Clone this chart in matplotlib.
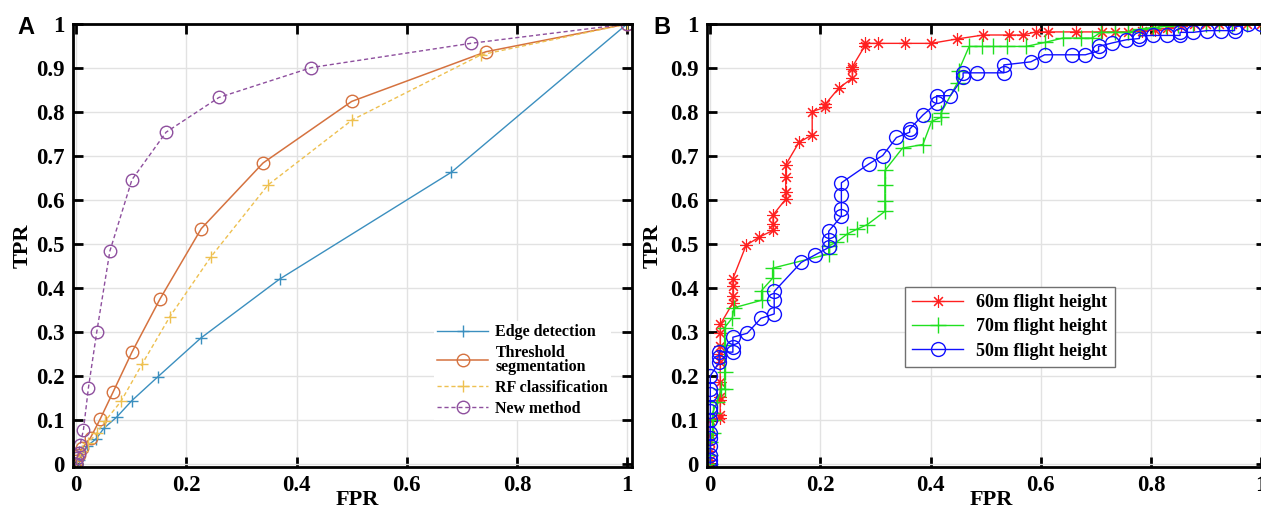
import matplotlib.pyplot as plt

# ---- panel A data (FPR, TPR) ----
edge_fpr = [0, 0.005, 0.019, 0.036, 0.05, 0.073, 0.101, 0.148, 0.226, 0.369, 0.681, 1.0]
edge_tpr = [0, 0.01, 0.04, 0.057, 0.081, 0.106, 0.144, 0.198, 0.286, 0.42, 0.663, 1.0]

thr_fpr = [0, 0.004, 0.011, 0.026, 0.043, 0.067, 0.101, 0.152, 0.227, 0.339, 0.5, 0.744, 1.0]
thr_tpr = [0.006, 0.021, 0.036, 0.06, 0.101, 0.164, 0.254, 0.375, 0.535, 0.684, 0.824, 0.937, 1.0]

rf_fpr = [0, 0.011, 0.022, 0.037, 0.052, 0.081, 0.119, 0.17, 0.244, 0.348, 0.501, 0.735, 1.0]
rf_tpr = [0, 0.029, 0.048, 0.07, 0.097, 0.142, 0.226, 0.335, 0.47, 0.634, 0.782, 0.93, 1.0]

new_fpr = [0, 0.001, 0.004, 0.007, 0.013, 0.022, 0.037, 0.061, 0.101, 0.163, 0.259, 0.427, 0.716, 1.0]
new_tpr = [0, 0.014, 0.025, 0.044, 0.078, 0.173, 0.299, 0.484, 0.646, 0.754, 0.833, 0.901, 0.956, 1.0]

# ---- panel B data ----
h60_fpr = [0, 0, 0, 0, 0, 0,
           0.018, 0.018, 0.018, 0.018, 0.018, 0.018, 0.018, 0.018, 0.018, 0.018,
           0.041, 0.041, 0.041, 0.041, 0.065, 0.088, 0.114, 0.114, 0.114,
           0.137, 0.137, 0.137, 0.137, 0.161, 0.185, 0.185, 0.209, 0.209, 0.233,
           0.258, 0.258, 0.258, 0.281, 0.281, 0.304, 0.353, 0.401, 0.448, 0.496,
           0.543, 0.568, 0.591, 0.614, 0.664, 0.711, 0.735, 0.759, 0.783, 0.807,
           0.83, 0.854, 0.878, 0.9, 0.924, 0.948, 0.974, 1.0]
h60_tpr = [0, 0.01, 0.03, 0.05, 0.065, 0.1,
           0.104, 0.112, 0.146, 0.153, 0.187, 0.231, 0.25, 0.269, 0.298, 0.317,
           0.366, 0.381, 0.404, 0.421, 0.497, 0.515, 0.531, 0.546, 0.566,
           0.602, 0.619, 0.653, 0.68, 0.731, 0.748, 0.801, 0.811, 0.818, 0.854,
           0.877, 0.898, 0.903, 0.951, 0.956, 0.956, 0.956, 0.956, 0.966, 0.975,
           0.975, 0.975, 0.982, 0.982, 0.982, 0.982, 0.982, 0.982, 0.985, 0.987,
           0.99, 0.996, 1, 1, 1, 1, 1, 1]

h70_fpr = [0, 0, 0, 0.004, 0.004, 0.004, 0.012, 0.02, 0.026, 0.026, 0.026, 0.026,
           0.04, 0.043, 0.093, 0.093, 0.113, 0.113, 0.215, 0.215, 0.229, 0.249,
           0.267, 0.285, 0.317, 0.317, 0.317, 0.317, 0.349, 0.386, 0.402, 0.419,
           0.419, 0.449, 0.451, 0.47, 0.493, 0.513, 0.539, 0.573, 0.607, 0.64,
           0.673, 0.693, 0.709, 0.735, 0.758, 0.781, 0.804, 0.827, 0.85, 0.877,
           0.9, 0.924, 0.948, 0.974, 1.0]
h70_tpr = [0, 0.02, 0.05, 0.07, 0.1, 0.116, 0.14, 0.17, 0.17, 0.21, 0.27, 0.31,
           0.332, 0.355, 0.372, 0.394, 0.422, 0.445, 0.477, 0.496, 0.504, 0.523,
           0.534, 0.544, 0.574, 0.597, 0.635, 0.667, 0.718, 0.726, 0.779, 0.788,
           0.798, 0.867, 0.894, 0.949, 0.949, 0.949, 0.949, 0.949, 0.958, 0.968,
           0.968, 0.968, 0.981, 0.981, 0.981, 0.989, 0.992, 0.995, 0.998, 1,
           1, 1, 1, 1, 1]

h50_fpr = [0, 0, 0, 0, 0, 0, 0, 0, 0, 0, 0, 0, 0.016, 0.016, 0.016, 0.041, 0.041,
           0.041, 0.067, 0.092, 0.116, 0.116, 0.116, 0.165, 0.19, 0.215, 0.215,
           0.215, 0.238, 0.238, 0.238, 0.238, 0.288, 0.313, 0.338, 0.362, 0.362,
           0.386, 0.411, 0.411, 0.436, 0.459, 0.459, 0.484, 0.533, 0.533, 0.582,
           0.607, 0.656, 0.681, 0.705, 0.705, 0.73, 0.755, 0.779, 0.779, 0.804,
           0.829, 0.853, 0.853, 0.877, 0.902, 0.927, 0.952, 0.952, 0.977, 1.0]
h50_tpr = [0, 0.01, 0.02, 0.04, 0.06, 0.07, 0.1, 0.12, 0.13, 0.16, 0.17, 0.2, 0.231,
           0.242, 0.255, 0.254, 0.265, 0.288, 0.297, 0.331, 0.341, 0.373, 0.392,
           0.458, 0.475, 0.492, 0.51, 0.529, 0.563, 0.58, 0.612, 0.639, 0.682,
           0.701, 0.742, 0.754, 0.761, 0.793, 0.82, 0.837, 0.837, 0.879, 0.889,
           0.889, 0.889, 0.907, 0.914, 0.93, 0.93, 0.93, 0.939, 0.949, 0.957,
           0.964, 0.967, 0.973, 0.974, 0.974, 0.974, 0.981, 0.981, 0.985, 0.985,
           0.985, 0.993, 1, 1]

x_ticks = [0, 0.2, 0.4, 0.6, 0.8, 1]
x_tick_labels = ['0', '0.2', '0.4', '0.6', '0.8', '1']
y_ticks = [0, 0.1, 0.2, 0.3, 0.4, 0.5, 0.6, 0.7, 0.8, 0.9, 1]
y_tick_labels = ['0', '0.1', '0.2', '0.3', '0.4', '0.5', '0.6', '0.7', '0.8', '0.9', '1']

plt.rcParams['font.family'] = ['Liberation Serif', 'DejaVu Serif']
plt.rcParams['font.weight'] = 'bold'

W, H = 1261, 508
fig = plt.figure(figsize=(W / 100, H / 100), dpi=100)


def setup_axes(ax):
    ax.set_xlim(-0.006, 1.009)
    ax.set_ylim(-0.007, 1.0)
    ax.set_xticks(x_ticks)
    ax.set_xticklabels(x_tick_labels)
    ax.set_yticks(y_ticks)
    ax.set_yticklabels(y_tick_labels)
    ax.grid(True, color='#e2e2e2', linewidth=1)
    ax.set_axisbelow(True)
    ax.tick_params(direction='in', length=7, width=2, top=True, right=True,
                   labelsize=16.5, pad=6)
    for s in ax.spines.values():
        s.set_linewidth(2)
    ax.set_xlabel('FPR', fontsize=16, fontweight='bold')
    ax.set_ylabel('TPR', fontsize=16, fontweight='bold')
    ax.xaxis.set_label_coords(0.508, -0.052)


axA = fig.add_axes([73 / W, 1 - 467 / H, 559 / W, 443 / H])
axB = fig.add_axes([707 / W, 1 - 467 / H, 559 / W, 443 / H])
setup_axes(axA)
setup_axes(axB)
axA.yaxis.set_label_coords(-0.072, 0.5)
axB.yaxis.set_label_coords(-0.080, 0.5)

# panel A
axA.plot(edge_fpr, edge_tpr, '-', color='#3b8fbf', lw=1, marker='+', ms=9, mew=1,
         label='Edge detection')
axA.plot(thr_fpr, thr_tpr, '-', color='#d5723f', lw=1.1, marker='o', ms=9,
         mfc='none', mew=1, label='Threshold\nsegmentation')
axA.plot(rf_fpr, rf_tpr, '--', color='#eec050', lw=1, marker='+', ms=9, mew=1,
         dashes=(3, 2), label='RF classification')
axA.plot(new_fpr, new_tpr, '--', color='#8e4f9e', lw=1, marker='o', ms=9,
         mfc='none', mew=1, dashes=(3, 2), label='New method')
legA = axA.legend(loc='upper left', bbox_to_anchor=(426 / W, 1 - 313 / H),
                  bbox_transform=fig.transFigure, fontsize=11.5, frameon=True,
                  handlelength=3.2, handletextpad=0.45, labelspacing=0.3,
                  borderpad=0.2, fancybox=False)
legA.get_frame().set_edgecolor('none')
legA.get_frame().set_alpha(1)
for t in legA.get_texts():
    t.set_linespacing(0.85)

# panel B
axB.plot(h60_fpr, h60_tpr, '-', color='#ff2020', lw=1, marker=(8, 2, 0), ms=9,
         mew=0.8, label='60m flight height')
axB.plot(h70_fpr, h70_tpr, '-', color='#20e020', lw=1, marker='+', ms=11,
         mew=1, label='70m flight height')
axB.plot(h50_fpr, h50_tpr, '-', color='#1010ff', lw=1, marker='o', ms=10,
         mfc='none', mew=1, label='50m flight height')
legB = axB.legend(loc='upper left', bbox_to_anchor=(905 / W, 1 - 287 / H),
                  bbox_transform=fig.transFigure, fontsize=13, frameon=True,
                  handlelength=2.8, handletextpad=0.75, labelspacing=0.4,
                  borderpad=0.4, fancybox=False, borderaxespad=0)
legB.get_frame().set_edgecolor('#707070')
legB.get_frame().set_linewidth(1)
legB.get_frame().set_alpha(1)

fig.text(26 / W, 1 - 27 / H, 'A', fontfamily='Liberation Sans', fontweight='bold',
         fontsize=17, ha='center', va='center')
fig.text(662 / W, 1 - 27 / H, 'B', fontfamily='Liberation Sans', fontweight='bold',
         fontsize=17, ha='center', va='center')

fig.savefig('out.png', dpi=100)
